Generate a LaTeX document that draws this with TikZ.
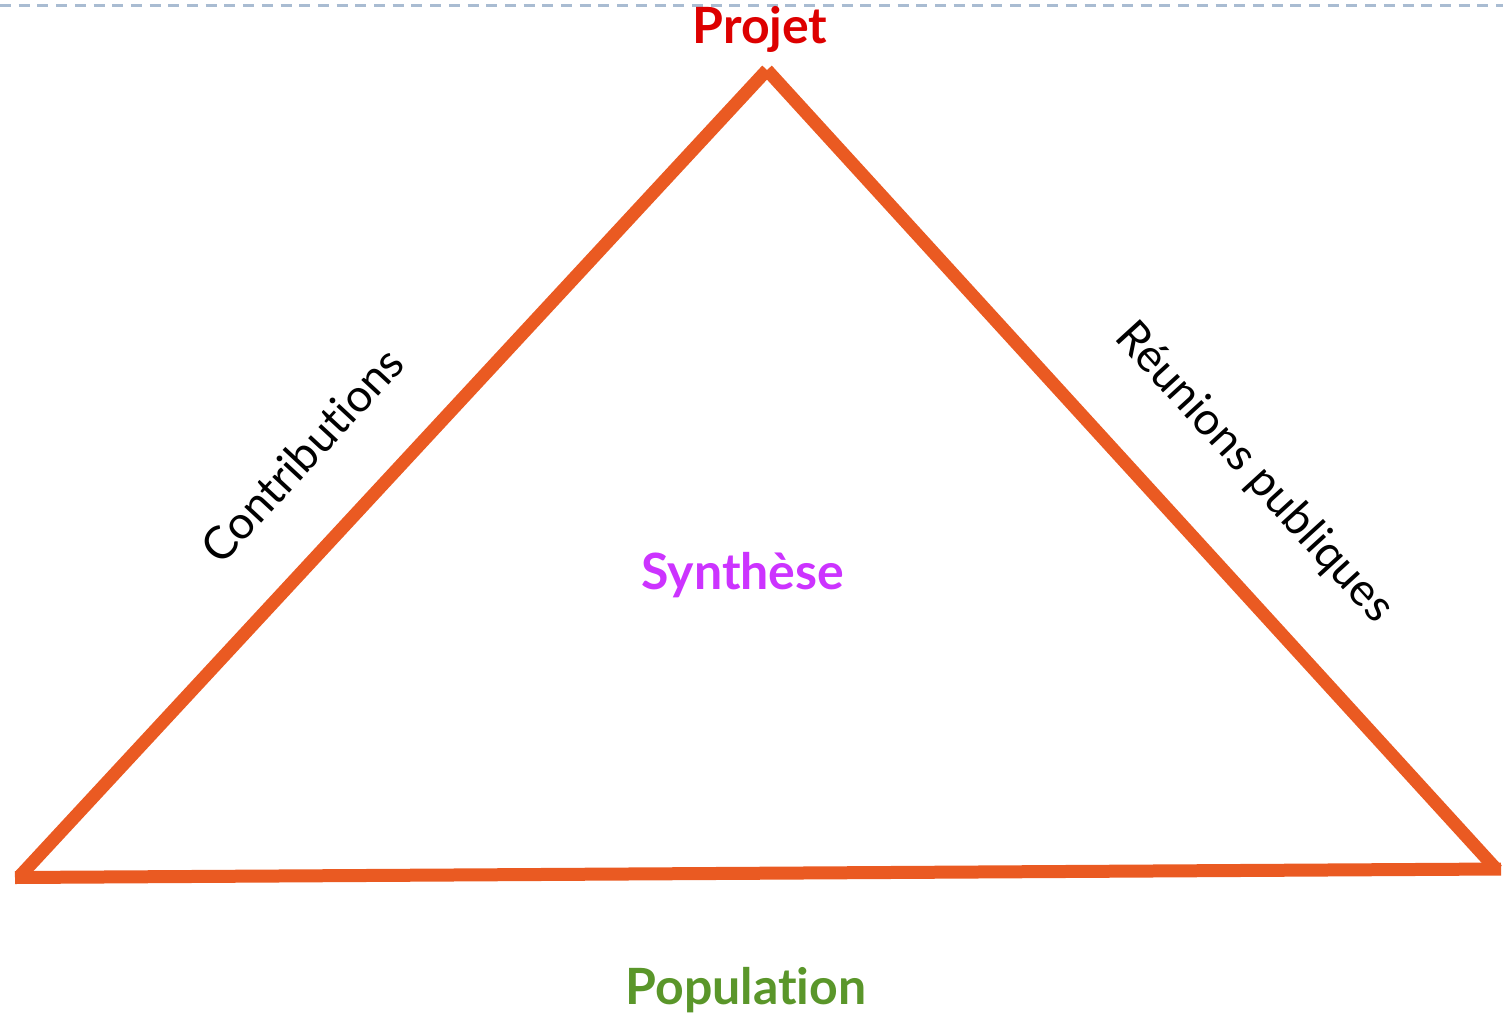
\documentclass[tikz,border=0pt]{standalone}
\usepackage{fontspec}
\setmainfont[Ligatures={NoCommon,NoRare}]{Lato}
\definecolor{edgeorange}{HTML}{EA5A22}
\definecolor{projred}{HTML}{DD0000}
\definecolor{synpurple}{HTML}{CC33FF}
\definecolor{popgreen}{HTML}{5A962A}
\definecolor{dashblue}{HTML}{A9BCD2}
\begin{document}
\begin{tikzpicture}[x=1pt,y=-1pt,
  edge/.style={draw=edgeorange,line width=13pt,line cap=butt},
  title/.style={font=\fontsize{50}{56}\selectfont\bfseries,inner sep=0pt},
  side/.style={font=\fontsize{45.5}{52}\selectfont,inner sep=0pt,text=black}]
\useasboundingbox (0,0) rectangle (1503,1016);
\coordinate (tl) at (0,6);
\coordinate (tr) at (1503,6);
\draw[dashblue,line width=3pt,dash pattern=on 11pt off 7.7pt] (tl) -- (tr);
\coordinate (top) at (767,70);
\coordinate (bl) at (20,876);
\coordinate (br) at (1497,870);
\coordinate (b0) at (15,877.5);
\coordinate (b1) at (1501,869);
\draw[edge] (top) -- (bl);
\draw[edge] (top) -- (br);
\draw[edge] (b0) -- (b1);
\node[title,text=projred] (projet) at (760,29) {Projet};
\node[title,text=synpurple] (synth) at (743,575) {Synthèse};
\node[title,text=popgreen] (pop) at (746,990) {Population};
\node[side,rotate=47.2] (contrib) at (302,455) {Contributions};
\node[side,rotate=-47.6] (reunion) at (1254,473) {Réunions publiques};
\end{tikzpicture}
\end{document}
